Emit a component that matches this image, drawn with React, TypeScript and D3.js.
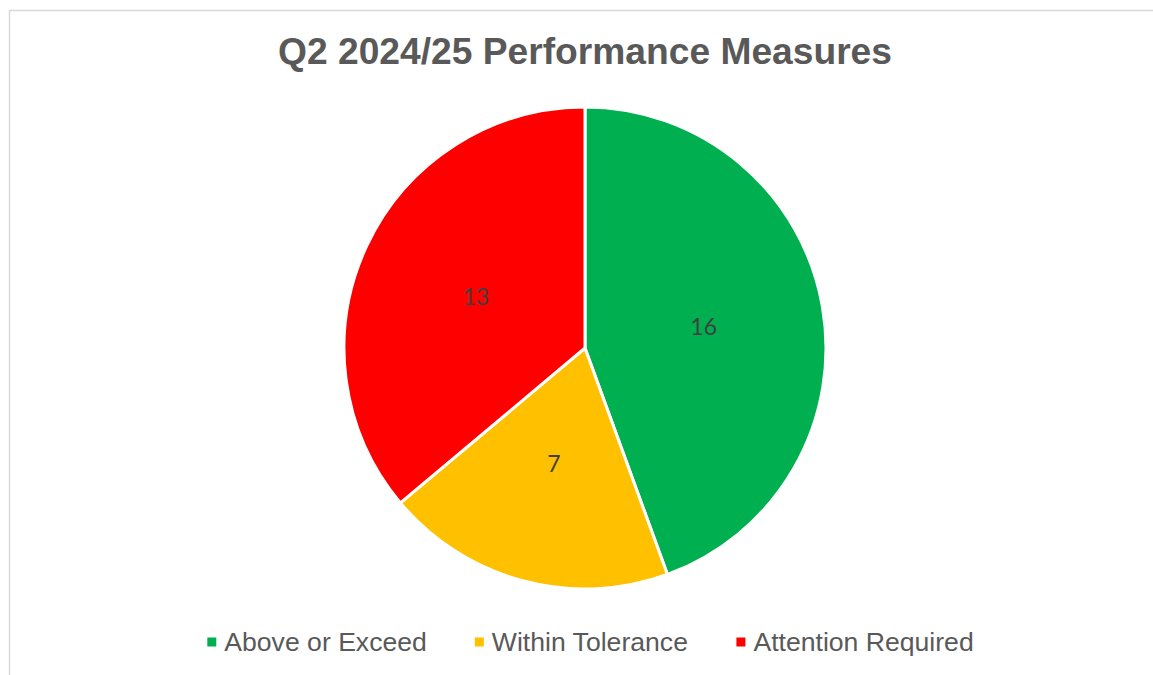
import React, { useEffect, useRef } from "react";
import * as d3 from "d3";

// Chart data
const categories = ["Above or Exceed", "Within Tolerance", "Attention Required"];
const values = [16, 7, 13];
const colors = ["#00B050", "#FFC000", "#FF0000"];
const title = "Q2 2024/25 Performance Measures";

const App = () => {
  const ref = useRef<SVGSVGElement | null>(null);

  useEffect(() => {
    const svg = d3.select(ref.current);
    svg.selectAll("*").remove();

    const width = 1153;
    const height = 675;
    const cx = 585;
    const cy = 348;
    const radius = 241;

    svg.attr("width", width).attr("height", height);

    // chart frame
    svg
      .append("rect")
      .attr("x", 9.5)
      .attr("y", 10.5)
      .attr("width", 1160)
      .attr("height", 700)
      .attr("fill", "#fff")
      .attr("stroke", "#d9d9d9")
      .attr("stroke-width", 1.5);

    // title
    svg
      .append("text")
      .attr("x", cx)
      .attr("y", 64)
      .attr("text-anchor", "middle")
      .attr("font-family", "Liberation Sans, Arial, sans-serif")
      .attr("font-weight", "bold")
      .attr("font-size", 37.2)
      .attr("fill", "#595959")
      .text(title);

    const data = categories.map((c, i) => ({ key: c, value: values[i], color: colors[i] }));

    const pieGen = d3
      .pie<any>()
      .value((d) => d.value)
      .sort(null);

    const arc = d3.arc<any>().innerRadius(0).outerRadius(radius);

    const g = svg.append("g").attr("transform", "translate(" + cx + "," + cy + ")");
    const arcs = pieGen(data);

    g.selectAll("path")
      .data(arcs)
      .enter()
      .append("path")
      .attr("d", arc)
      .attr("fill", (d) => d.data.color)
      .attr("stroke", "white")
      .style("stroke-width", "3px");

    // data labels
    g.selectAll("text.lbl")
      .data(arcs)
      .enter()
      .append("text")
      .attr("class", "lbl")
      .attr("x", (d) => arc.centroid(d)[0])
      .attr("y", (d) => arc.centroid(d)[1])
      .attr("dy", "0.35em")
      .attr("text-anchor", "middle")
      .attr("font-family", "Lato, Open Sans, sans-serif")
      .attr("font-size", 23)
      .attr("fill", "#404040")
      .text((d) => d.data.value);

    // legend
    const fontSize = 26.6;
    const ctx = document.createElement("canvas").getContext("2d")!;
    ctx.font = fontSize + "px 'Liberation Sans', Arial, sans-serif";
    const marker = 9;
    const markerGap = 8;
    const itemGap = 48;
    const widths = categories.map((c) => marker + markerGap + ctx.measureText(c).width);
    const total = d3.sum(widths) + itemGap * (categories.length - 1);
    let x = 590.5 - total / 2;
    const ly = 642;
    const legend = svg.append("g");
    data.forEach((d, i) => {
      legend
        .append("rect")
        .attr("x", x)
        .attr("y", ly - marker / 2)
        .attr("width", marker)
        .attr("height", marker)
        .attr("fill", d.color);
      legend
        .append("text")
        .attr("x", x + marker + markerGap)
        .attr("y", ly)
        .attr("dy", "0.35em")
        .attr("font-family", "Liberation Sans, Arial, sans-serif")
        .attr("font-size", fontSize)
        .attr("fill", "#595959")
        .text(d.key);
      x += widths[i] + itemGap;
    });
  }, []);

  return (
    <div style={{ position: "absolute", left: 0, top: 0, width: 1153, height: 675, overflow: "hidden", background: "#fff" }}>
      <svg ref={ref} style={{ display: "block" }}></svg>
    </div>
  );
};

export default App;
